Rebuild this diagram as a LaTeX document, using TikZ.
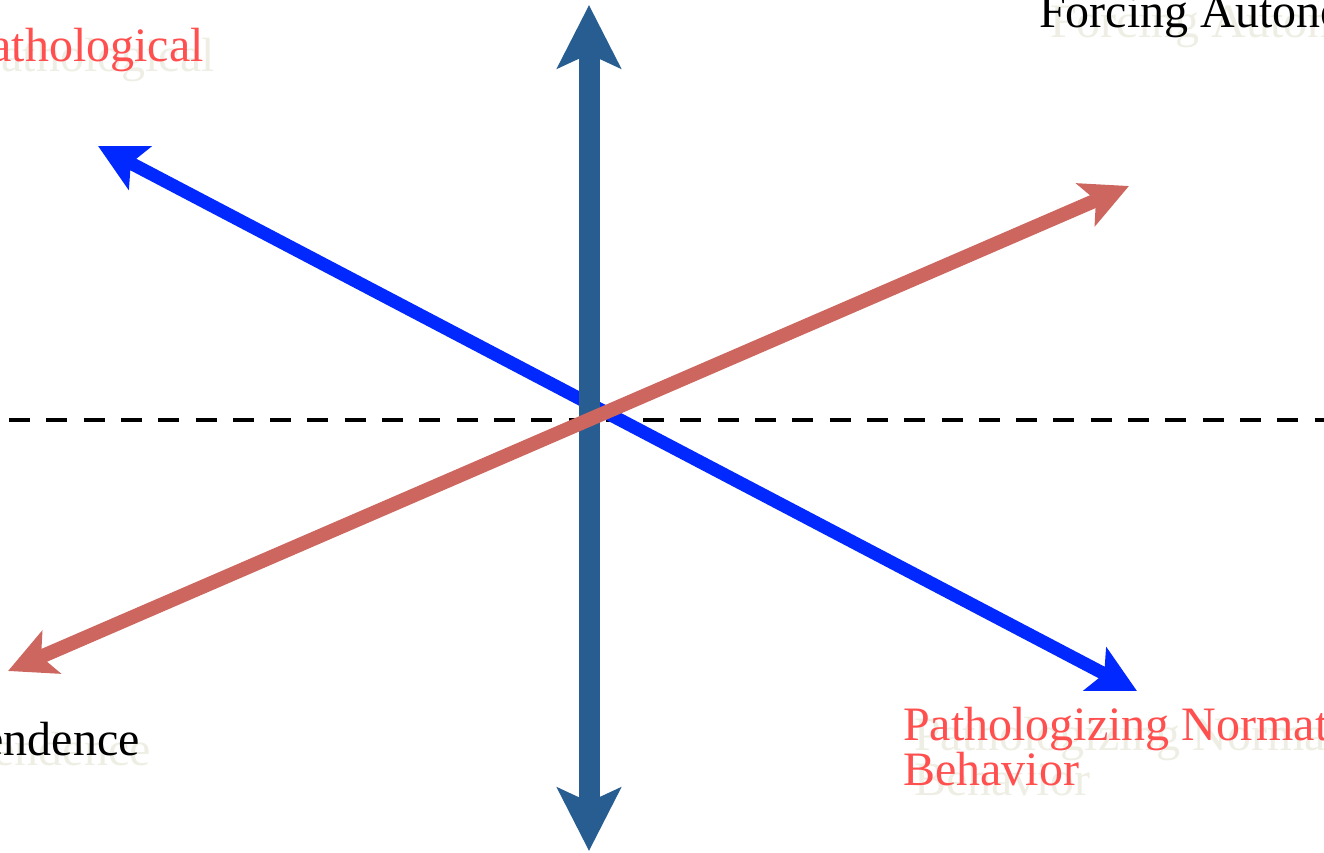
\documentclass[tikz,border=0pt]{standalone}
\usepackage{fontspec}
\setmainfont{Liberation Serif}
\usetikzlibrary{arrows.meta}
\definecolor{Steel}{HTML}{275D91}
\definecolor{Vivid}{HTML}{0028FF}
\definecolor{Clay}{HTML}{CC665F}
\definecolor{Coral}{HTML}{FF4F4F}
\definecolor{Ghost}{HTML}{EEEEE4}

\begin{document}
\begin{tikzpicture}[
    x=1pt, y=-1pt,
    axis/.style={line width=21pt, Steel,
        {Stealth[length=63pt, width=63pt, inset=14pt]}-{Stealth[length=63pt, width=63pt, inset=14pt]}},
    bluearr/.style={line width=13pt, Vivid,
        {Stealth[length=47pt, width=48pt, inset=10pt]}-{Stealth[length=47pt, width=48pt, inset=10pt]}},
    redarr/.style={line width=14pt, Clay,
        {Stealth[length=47pt, width=46pt, inset=11pt]}-{Stealth[length=47pt, width=46pt, inset=11pt]}},
    mid/.style={line width=4.3pt, black, dash pattern=on 21pt off 16.3pt},
    lbl/.style={inner sep=0pt, font=\fontsize{48}{46}\selectfont},
    shade/.style={lbl, text=Ghost}
]
\useasboundingbox (0,0) rectangle (1324,853);
\clip (0,0) rectangle (1324,853);

% arrow end points
\coordinate (left) at (9,420);
\coordinate (right) at (1324,420);
\coordinate (top) at (589,5);
\coordinate (bottom) at (589,851);
\coordinate (bluetl) at (98,146);
\coordinate (bluebr) at (1137,691);
\coordinate (redbl) at (8,671);
\coordinate (redtr) at (1129,186);

\draw[mid] (left) -- (right);
\draw[bluearr] (bluetl) -- (bluebr);
\draw[axis] (top) -- (bottom);
\draw[redarr] (redbl) -- (redtr);

% labels (with faint shadow copies)
\node[shade, anchor=base east] (paths) at (215,72) {Pathological};
\node[lbl, anchor=base east, text=Coral] (path) at (204,62) {Pathological};

\node[shade, anchor=base west] (forcs) at (1050,38) {Forcing Autonomy};
\node[lbl, anchor=base west] (forc) at (1039,28) {Forcing Autonomy};

\node[shade, anchor=base east] (deps) at (151,765) {Dependence};
\node[lbl, anchor=base east] (dep) at (140,755) {Dependence};

\node[shade, anchor=base west] (norms) at (914,750) {Pathologizing Normative};
\node[shade, anchor=base west] (behs) at (914,795) {Behavior};
\node[lbl, anchor=base west, text=Coral] (norm) at (903,740) {Pathologizing Normative};
\node[lbl, anchor=base west, text=Coral] (beh) at (903,785) {Behavior};

\end{tikzpicture}
\end{document}
